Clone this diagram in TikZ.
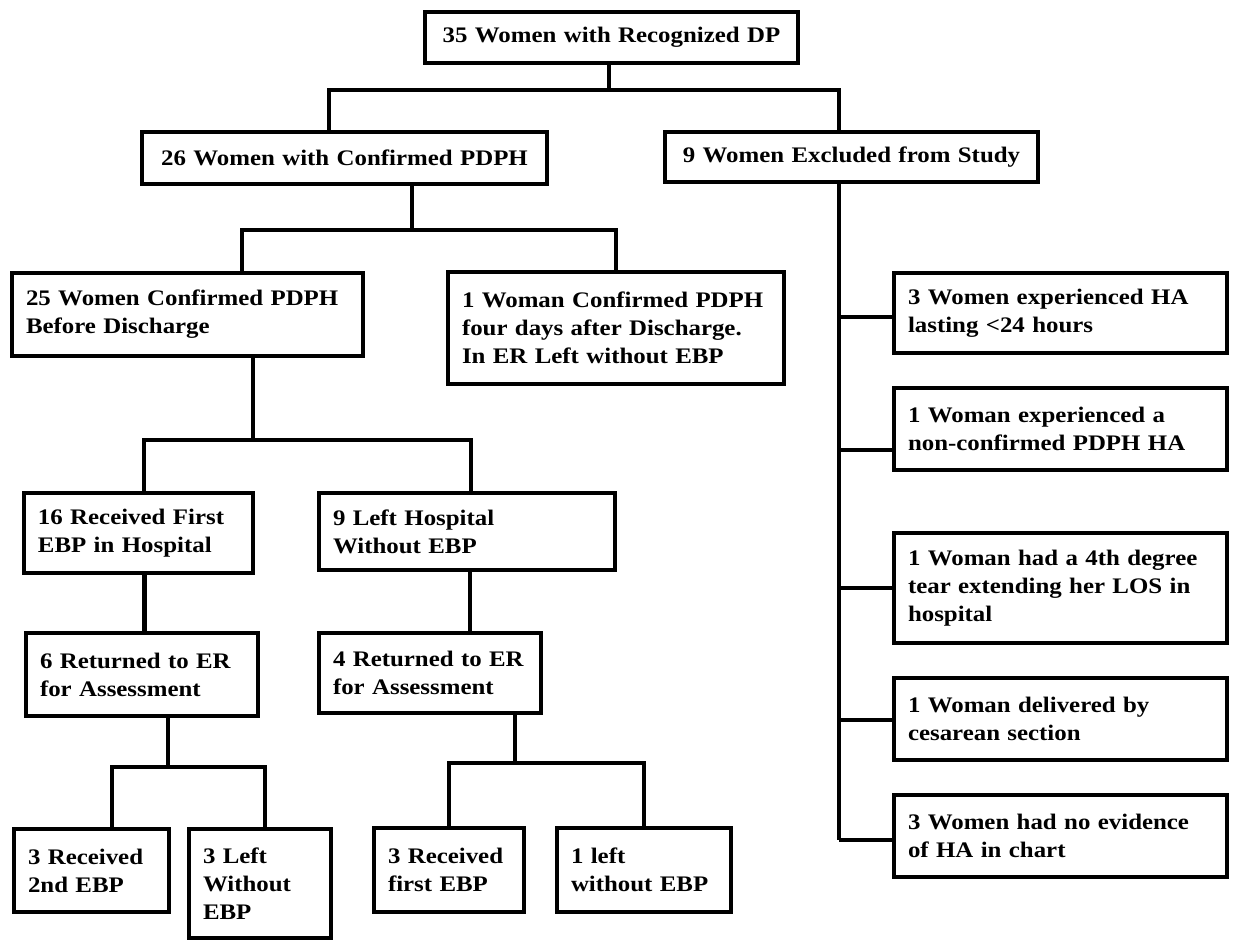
\documentclass[tikz,border=0pt]{standalone}
\usepackage{fontspec}
\setmainfont{Liberation Serif}[FakeStretch=1.12]
\tikzset{every picture/.style={line width=2.2pt}}
\tikzset{box/.style={draw, anchor=north west, align=left, inner xsep=7pt, inner ysep=0pt, outer sep=0pt, font=\bfseries\fontsize{11.1}{14}\selectfont}}

\begin{document}
\begin{tikzpicture}[x=0.5pt,y=0.5pt,yscale=-1,xscale=1]
    \useasboundingbox (0,0) rectangle (1233,939);
    % boxes
    \node[box, align=center, text width=172.5pt, minimum height=25.5pt] (dp) at (425,12) {35 Women with Recognized DP};
    \node[box, align=center, text width=188.5pt, minimum height=26pt] (pdph) at (142,132) {26 Women with Confirmed PDPH};
    \node[box, align=center, text width=172.5pt, minimum height=25pt] (excl) at (665,132) {9 Women Excluded from Study};
    \node[box, text width=161.5pt, minimum height=41.5pt] (before) at (12,273) {25 Women Confirmed PDPH\\Before Discharge};
    \node[box, text width=154pt, minimum height=56pt] (after) at (448,272) {1 Woman Confirmed PDPH\\four days after Discharge.\\In ER Left without EBP};
    \node[box, text width=152.5pt, minimum height=40pt] (ha24) at (894,273) {3 Women experienced HA\\lasting <24 hours};
    \node[box, text width=152.5pt, minimum height=41pt] (nonconf) at (894,388) {1 Woman experienced a\\non-confirmed PDPH HA};
    \node[box, text width=152.5pt, minimum height=55pt] (tear) at (894,533) {1 Woman had a 4th degree\\tear extending her LOS in\\hospital};
    \node[box, text width=152.5pt, minimum height=41pt] (cesar) at (894,678) {1 Woman delivered by\\cesarean section};
    \node[box, text width=152.5pt, minimum height=41pt] (noev) at (894,795) {3 Women had no evidence\\of HA in chart};
    \node[box, text width=100.5pt, minimum height=40pt] (first) at (24,493) {16 Received First\\EBP in Hospital};
    \node[box, text width=134pt, minimum height=38.5pt] (lefthosp) at (319,493) {9 Left Hospital\\Without EBP};
    \node[box, text width=102pt, minimum height=41.5pt] (erA) at (26,633) {6 Returned to ER\\for Assessment};
    \node[box, text width=97pt, minimum height=40pt] (erB) at (319,633) {4 Returned to ER\\for Assessment};
    \node[box, text width=63.5pt, minimum height=41.5pt] (second) at (14,829) {3 Received\\2nd EBP};
    \node[box, text width=57pt, minimum height=54.5pt] (leftA) at (189,829) {3 Left\\Without\\EBP};
    \node[box, text width=61pt, minimum height=42pt] (firstB) at (374,828) {3 Received\\first EBP};
    \node[box, text width=73pt, minimum height=42pt] (leftB) at (557,828) {1 left\\without EBP};

    % top split
    \coordinate (j1) at (609,90);
    \draw (dp.south -| j1) -- (j1);
    \draw ([xshift=-7.75pt]pdph.north) |- (j1) -| ([xshift=-6.25pt]excl.north);
    % confirmed split
    \coordinate (j2) at (412,230);
    \draw (pdph.south -| j2) -- (j2);
    \draw ([xshift=27.25pt]before.north) |- (j2) -| (after.north);
    % before discharge split
    \coordinate (j3) at (253,440);
    \draw (before.south -| j3) -- (j3);
    \draw ([xshift=2.75pt]first.north) |- (j3) -| ([xshift=2pt]lefthosp.north);
    % back to ER
    \draw ([xshift=3pt]first.south) -- ([xshift=3pt]first.south |- erA.north);
    \draw ([xshift=1.5pt]lefthosp.south) -- ([xshift=1.5pt]lefthosp.south |- erB.north);
    % ER splits
    \coordinate (j4) at (168,767);
    \draw (erA.south -| j4) -- (j4);
    \draw ([xshift=10.25pt]second.north) |- (j4) -| ([xshift=2.5pt]leftA.north);
    \coordinate (j5) at (515,763);
    \draw (erB.south -| j5) -- (j5);
    \draw (firstB.north) |- (j5) -| (leftB.north);
    % exclusions
    \coordinate (s) at (839,840);
    \draw (excl.south -| s) -- (s);
    \foreach \n/\dy in {ha24/2pt, nonconf/10.5pt, tear/0pt, cesar/0.5pt, noev/2pt}
        \draw ([yshift=\dy]\n.west -| s) -- ([yshift=\dy]\n.west);
\end{tikzpicture}
\end{document}
